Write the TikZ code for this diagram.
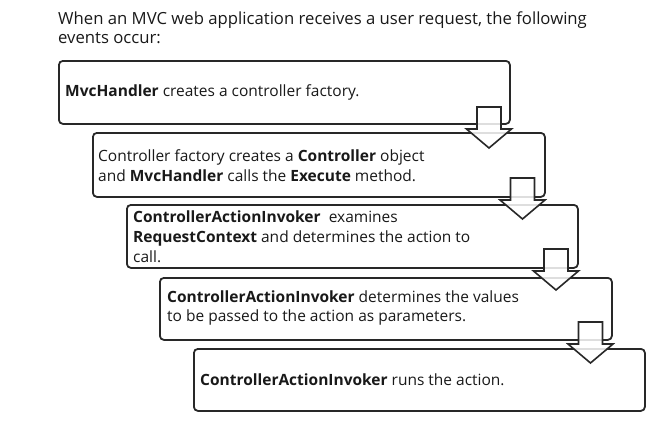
\documentclass[tikz,border=0pt]{standalone}
\usepackage{fontspec}
\setmainfont{Open Sans}
\begin{document}
\begin{tikzpicture}[x=1pt,y=-1pt,
  box/.style={draw=boxline,line width=1.8pt,rounded corners=4pt,fill=white,anchor=north west,inner sep=0pt},
  txt/.style={anchor=west,align=left,inner sep=0pt,text=textcol,font=\fontsize{15.5}{19.8}\selectfont},
  blockarrow/.style={draw=boxline,line width=1.6pt,fill=white,fill opacity=0.85,line join=miter}]
\definecolor{boxline}{RGB}{40,40,40}
\definecolor{textcol}{RGB}{25,25,25}
\useasboundingbox (0,0) rectangle (670,447);
\node[anchor=west,align=left,inner sep=0pt,text=textcol,font=\fontsize{16.7}{19}\selectfont] (title) at (58,27.5)
  {When an MVC web application receives a user request, the following\\events occur:};
\node[box,minimum width=451pt,minimum height=63pt] (b1) at (58,60) {};
\node[box,minimum width=452pt,minimum height=64pt] (b2) at (92,132) {};
\node[box,minimum width=451pt,minimum height=63pt] (b3) at (126,204) {};
\node[box,minimum width=452pt,minimum height=62pt] (b4) at (159,277) {};
\node[box,minimum width=451pt,minimum height=62pt] (b5) at (193,348) {};
\node[txt] (t1) at (65,92) {\textbf{MvcHandler} creates a controller factory.};
\node[txt] (t2) at (98,166) {Controller factory creates a \textbf{Controller} object\\and \textbf{MvcHandler} calls the \textbf{Execute} method.};
\node[txt] (t3) at (133,237) {\textbf{ControllerActionInvoker}\ \ examines\\\textbf{RequestContext} and determines the action to\\call.};
\node[txt] (t4) at (167,308) {\textbf{ControllerActionInvoker} determines the values\\to be passed to the action as parameters.};
\node[txt] (t5) at (200,380) {\textbf{ControllerActionInvoker} runs the action.};
\foreach \name/\xc/\yt in {a1/489/107, a2/522.5/178, a3/556/249, a4/590.5/322}{
  \coordinate (\name) at (\xc,\yt);
  \draw[blockarrow] (\name) ++(-12,0) -- ++(0,22) -- ++(-10.5,0) -- ++(22.5,19) -- ++(22.5,-19) -- ++(-10.5,0) -- ++(0,-22) -- cycle;
}
\end{tikzpicture}
\end{document}
